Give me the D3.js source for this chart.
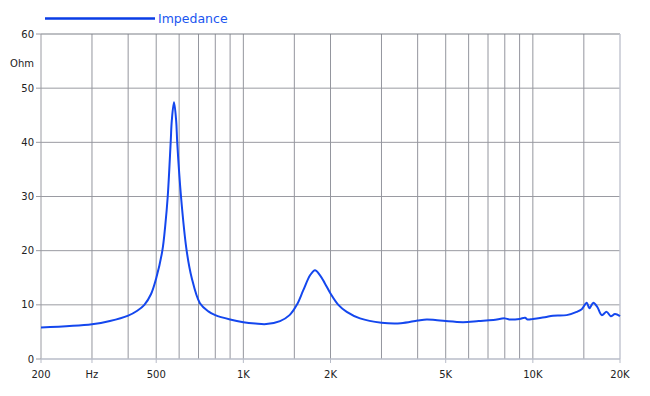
<!DOCTYPE html>
<html lang="en">
<head>
<meta charset="UTF-8">
<title>Impedance</title>
<script src="https://d3js.org/d3.v7.min.js"></script>
<style>
  body { margin: 0; background: #fff; }
  text { font-family: "DejaVu Sans", Verdana, sans-serif; }
</style>
</head>
<body>
<script>
// impedance curve (Hz, Ohm)
var freqs = [200, 300, 346, 400, 430, 455, 480, 500, 525, 537, 548, 561, 566, 576, 586, 591,
  609, 637, 663, 708, 757, 800, 900, 1000, 1100, 1200, 1339, 1444, 1530, 1611, 1702, 1768,
  1838, 1911, 2000, 2129, 2276, 2529, 3000, 3500, 4000, 4300, 4600, 5000, 5740, 6500, 7300,
  8000, 8300, 9000, 9400, 9600, 10000, 11000, 11735, 13090, 14170, 14750, 15350, 15670,
  16180, 16700, 17300, 17990, 18580, 19220, 20000];
var ohms = [5.8, 6.4, 7.0, 8.0, 8.9, 10.0, 12.0, 14.9, 20, 24.5, 30, 40, 44, 47.4, 44, 40,
  30, 20, 15, 10.3, 8.8, 8.1, 7.3, 6.8, 6.55, 6.45, 7.0, 8.1, 10.0, 12.7, 15.5, 16.4,
  15.5, 14.0, 12.1, 10.0, 8.7, 7.5, 6.7, 6.6, 7.1, 7.3, 7.2, 7.0, 6.8, 7.0, 7.2,
  7.5, 7.3, 7.4, 7.6, 7.3, 7.4, 7.7, 8.0, 8.1, 8.7, 9.2, 10.4, 9.35,
  10.4, 9.6, 8.1, 8.7, 7.9, 8.3, 7.9];

var gridFreqs = [300, 400, 500, 600, 700, 800, 900, 1000, 1500, 2000, 3000, 4000, 5000,
  6000, 7000, 8000, 9000, 10000, 15000];
var xTickValues = [200, 300, 500, 1000, 2000, 5000, 10000, 20000];
var xTickLabels = ["200", "Hz", "500", "1K", "2K", "5K", "10K", "20K"];
var yTickValues = [0, 10, 20, 30, 40, 50, 60];
var seriesName = "Impedance";

var W = 650, H = 396;
var margin = {top: 34, right: 30, bottom: 37, left: 41};
var width = W - margin.left - margin.right,
    height = H - margin.top - margin.bottom;

var x = d3.scaleLog().domain([200, 20000]).range([0, width]);
var y = d3.scaleLinear().domain([0, 60]).range([height, 0]);

var svg = d3.select("body").append("svg")
  .attr("width", W)
  .attr("height", H);

var g = svg.append("g")
  .attr("transform", "translate(" + margin.left + "," + margin.top + ")");

// horizontal grid
g.selectAll(".hgrid")
  .data(yTickValues.filter(function(d) { return d > 0 && d < 60; }))
  .enter().append("line")
  .attr("x1", 0).attr("x2", width)
  .attr("y1", function(d) { return y(d); })
  .attr("y2", function(d) { return y(d); })
  .attr("stroke", "#9a9ba2").attr("stroke-width", 1);

// vertical grid
g.selectAll(".vgrid")
  .data(gridFreqs)
  .enter().append("line")
  .attr("x1", function(d) { return x(d); })
  .attr("x2", function(d) { return x(d); })
  .attr("y1", 0).attr("y2", height)
  .attr("stroke", "#94969e").attr("stroke-width", 1);

// frame
g.append("line").attr("x1", 0).attr("x2", width).attr("y1", 0).attr("y2", 0)
  .attr("stroke", "#7c8088").attr("stroke-width", 1.2);
g.append("line").attr("x1", width).attr("x2", width).attr("y1", 0).attr("y2", height)
  .attr("stroke", "#c4c7d2").attr("stroke-width", 1.5);
g.append("line").attr("x1", 0).attr("x2", 0).attr("y1", 0).attr("y2", height)
  .attr("stroke", "#9a9ba2").attr("stroke-width", 1);
g.append("line").attr("x1", 0).attr("x2", width).attr("y1", height).attr("y2", height)
  .attr("stroke", "#b8bcc8").attr("stroke-width", 1.5);

// y axis ticks + labels
var yt = g.selectAll(".ytick").data(yTickValues).enter().append("g")
  .attr("transform", function(d) { return "translate(0," + y(d) + ")"; });
yt.append("line").attr("x1", -5).attr("x2", 0).attr("stroke", "#9a9ba2");
yt.append("text")
  .attr("x", -7).attr("dy", "0.35em")
  .attr("text-anchor", "end")
  .attr("font-size", 10).attr("fill", "#222")
  .text(function(d) { return d; });

g.append("text")
  .attr("x", -7).attr("y", y(55) + 2).attr("dy", "0.35em")
  .attr("text-anchor", "end")
  .attr("font-size", 10).attr("fill", "#222")
  .text("Ohm");

// x axis ticks + labels
var xt = g.selectAll(".xtick").data(xTickValues).enter().append("g")
  .attr("transform", function(d) { return "translate(" + x(d) + "," + height + ")"; });
xt.append("line").attr("y1", 0).attr("y2", 4).attr("stroke", "#b8bcc8");
xt.append("text")
  .attr("y", 19)
  .attr("text-anchor", "middle")
  .attr("font-size", 10).attr("fill", "#222")
  .text(function(d, i) { return xTickLabels[i]; });

// curve
var pts = freqs.map(function(f, i) { return [f, ohms[i]]; });
var line = d3.line()
  .x(function(d) { return x(d[0]); })
  .y(function(d) { return y(d[1]); })
  .curve(d3.curveCatmullRom.alpha(0.5));

g.append("path")
  .datum(pts)
  .attr("fill", "none")
  .attr("stroke", "#1447ee")
  .attr("stroke-width", 2)
  .attr("stroke-linejoin", "round")
  .attr("d", line);

// legend
svg.append("line")
  .attr("x1", 45).attr("x2", 155).attr("y1", 18.5).attr("y2", 18.5)
  .attr("stroke", "#0a3de6").attr("stroke-width", 2.5);
svg.append("text")
  .attr("x", 158).attr("y", 22.5)
  .attr("font-size", 12.5).attr("fill", "#1a55f0")
  .text(seriesName);
</script>
</body>
</html>
